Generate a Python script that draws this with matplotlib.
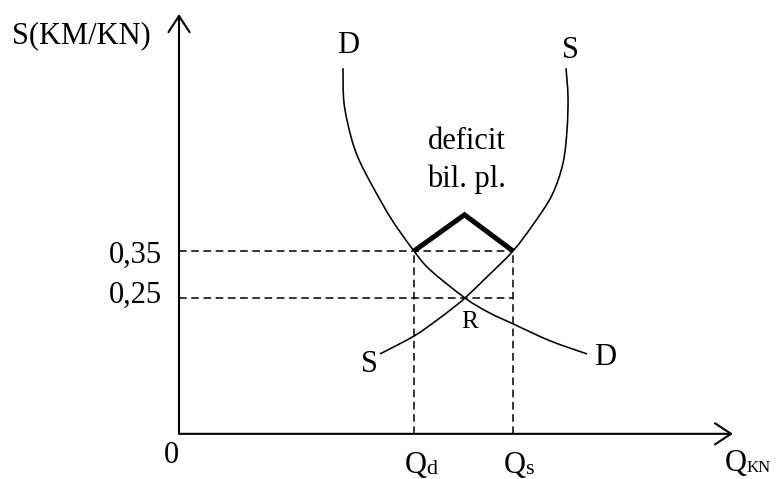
import matplotlib
matplotlib.use("Agg")
import matplotlib.pyplot as plt
from matplotlib.path import Path
from matplotlib.patches import PathPatch

# ---- data (schematic units: quantity on x, exchange rate S on y) ----
y_levels = [0.25, 0.35]
y_labels = ["0,25", "0,35"]
q_levels = [2.35, 3.34]          # Qd, Qs
q_names = ["Q", "Q"]
q_subs = ["d", "s"]
eq_point = (2.86, 0.25)          # R
deficit_peak = (2.855, 0.427)

d_curve_x = [1.64, 1.65, 1.72, 1.80, 1.94, 2.13, 2.35, 2.51, 2.86, 3.09, 3.34, 3.71, 4.08]
d_curve_y = [0.739, 0.665, 0.593, 0.544, 0.486, 0.416, 0.35, 0.310, 0.25, 0.220, 0.195, 0.159, 0.131]

s_curve_x = [2.01, 2.35, 2.58, 2.74, 2.86, 3.09, 3.34, 3.54, 3.73, 3.84, 3.88, 3.89, 3.87]
s_curve_y = [0.131, 0.169, 0.203, 0.229, 0.25, 0.297, 0.35, 0.406, 0.469, 0.537, 0.607, 0.678, 0.739]

x_axis_end = 5.54
y_axis_top = 0.854
origin_y = -0.039

FONT = "Liberation Serif"
plt.rcParams["font.family"] = [FONT, "DejaVu Serif"]


def smooth_path(xs, ys):
    """Bezier path through the given points (rendered smoothly by matplotlib)."""
    pts = list(zip(xs, ys))
    verts = [pts[0]]
    codes = [Path.MOVETO]
    n = len(pts)
    for i in range(n - 1):
        p0 = pts[i - 1] if i > 0 else pts[i]
        p1 = pts[i]
        p2 = pts[i + 1]
        p3 = pts[i + 2] if i + 2 < n else pts[i + 1]
        c1 = (p1[0] + (p2[0] - p0[0]) / 6, p1[1] + (p2[1] - p0[1]) / 6)
        c2 = (p2[0] - (p3[0] - p1[0]) / 6, p2[1] - (p3[1] - p1[1]) / 6)
        verts += [c1, c2, p2]
        codes += [Path.CURVE4] * 3
    return Path(verts, codes)


fig = plt.figure(figsize=(7.79, 4.79), dpi=100)
ax = fig.add_axes([0, 0, 1, 1])
ax.set_xlim(-1.79, 6.00)
ax.set_ylim(-0.1351, 0.8840)
ax.axis("off")

# axes with open arrow heads
arrow = dict(arrowstyle="->,head_length=0.58,head_width=0.38", mutation_scale=20,
             lw=1.5, color="black", shrinkA=0, shrinkB=0)
ax.annotate("", xy=(x_axis_end, origin_y), xytext=(0, origin_y), arrowprops=arrow)
ax.annotate("", xy=(0, y_axis_top), xytext=(0, origin_y), arrowprops=arrow)

# dashed guide lines
dash = dict(color="black", lw=1.1, ls=(0, (5, 3)))
for yl in y_levels:
    ax.plot([0, q_levels[1]], [yl, yl], **dash)
for ql in q_levels:
    ax.plot([ql, ql], [origin_y, y_levels[1]], **dash)

# curves
for xs, ys in [(d_curve_x, d_curve_y), (s_curve_x, s_curve_y)]:
    ax.add_patch(PathPatch(smooth_path(xs, ys), facecolor="none",
                           edgecolor="black", lw=1.15, capstyle="butt"))

# deficit marker
ax.plot([q_levels[0], deficit_peak[0], q_levels[1]],
        [y_levels[1], deficit_peak[1], y_levels[1]],
        color="black", lw=3.6, solid_joinstyle="miter", solid_capstyle="butt")

# text
fs = 22
ax.text(-1.67, 0.793, "S(KM/KN)", fontsize=fs, ha="left", va="baseline")
ax.text(1.69, 0.771, "D", fontsize=fs, ha="center", va="baseline")
ax.text(3.91, 0.761, "S", fontsize=fs, ha="center", va="baseline")
ax.text(2.88, 0.567, "deficit", fontsize=fs, ha="center", va="baseline")
ax.text(2.87, 0.486, "bil. pl.", fontsize=fs, ha="center", va="baseline")
ax.text(eq_point[0] + 0.05, 0.186, "R", fontsize=18, ha="center", va="baseline")
ax.text(1.90, 0.093, "S", fontsize=fs, ha="center", va="baseline")
ax.text(4.26, 0.107, "D", fontsize=fs, ha="center", va="baseline")
for yl, lab, base in zip(y_levels, y_labels, [0.239, 0.3245]):
    ax.text(-0.17, base, lab, fontsize=fs, ha="right", va="baseline")
ax.text(-0.08, -0.101, "0", fontsize=fs, ha="center", va="baseline")
for ql, name, sub in zip(q_levels, q_names, q_subs):
    ax.text(ql - 0.095, -0.122, name, fontsize=fs, ha="left", va="baseline")
    ax.text(ql + 0.125, -0.124, sub, fontsize=16, ha="left", va="baseline")
ax.text(5.46, -0.118, "Q", fontsize=fs, ha="left", va="baseline")
ax.text(5.68, -0.120, "KN", fontsize=12, ha="left", va="baseline")

fig.savefig("out.png", dpi=100)
